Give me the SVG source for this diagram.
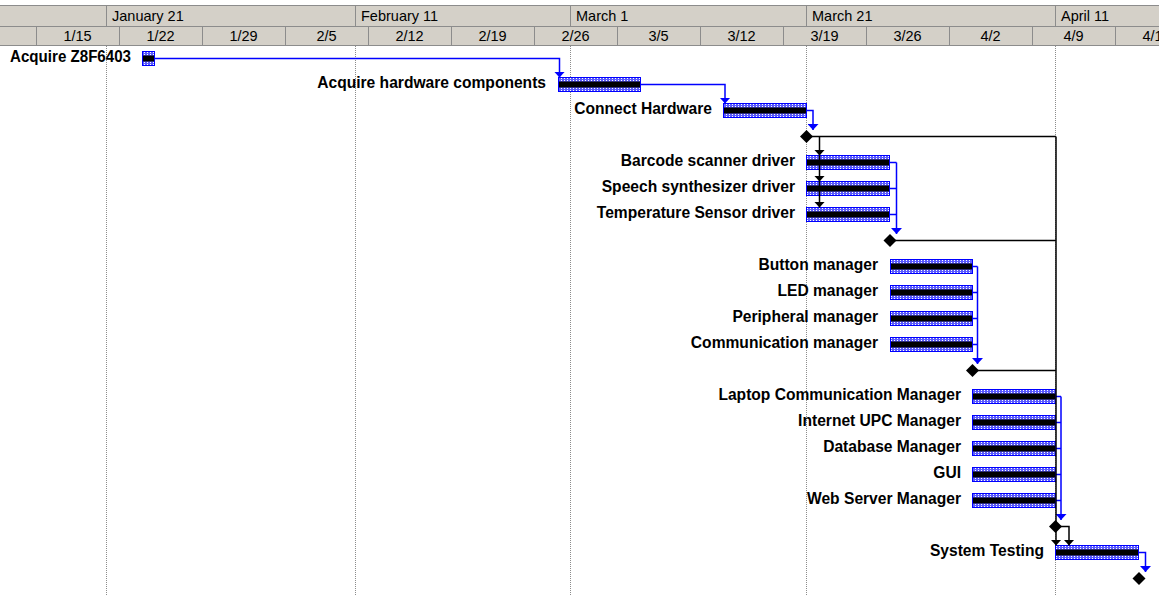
<svg xmlns="http://www.w3.org/2000/svg" width="1159" height="596" viewBox="0 0 1159 596">
<defs>
<pattern id="dots" x="0" y="0" width="3" height="2" patternUnits="userSpaceOnUse"><rect x="0" y="0" width="1" height="1" fill="#ffffff"/></pattern>
<marker id="ab" viewBox="0 0 6 11" markerWidth="6" markerHeight="11" refX="6" refY="5.5" orient="auto" markerUnits="userSpaceOnUse"><path d="M0,0 L6,5.5 L0,11 Z" fill="#0000ff"/></marker>
<marker id="ak" viewBox="0 0 6 11" markerWidth="6" markerHeight="11" refX="6" refY="5.5" orient="auto" markerUnits="userSpaceOnUse"><path d="M0,0 L6,5.5 L0,11 Z" fill="#000000"/></marker>
</defs>
<style>
.hd{font-family:"Liberation Sans",Arial,sans-serif;font-size:14.5px;fill:#000}
.hc{text-anchor:middle}
.hl{stroke:#8c8c8c;stroke-width:1;fill:none}
.grid{stroke:#8c8c8c;stroke-width:1;stroke-dasharray:1 1;fill:none}
.lbl{font-family:"Liberation Sans",Arial,sans-serif;font-size:15.6px;font-weight:bold;fill:#000;text-anchor:end}
.bar{fill:#5c5cff;stroke:#0000ff;stroke-width:1}
.stripe{fill:#000}
.ms{fill:#000}
.lb{stroke:#0000ff;stroke-width:1.5;fill:none}
.lk{stroke:#000;stroke-width:1.5;fill:none}
.ab{marker-end:url(#ab)}
.ak{marker-end:url(#ak)}
</style>
<rect width="1159" height="596" fill="#ffffff"/>
<g id="timescale">
<rect x="0" y="5" width="1159" height="41" fill="#d4d0c8"/>
<path class="hl" d="M0,5.5 H1159 M0,26.5 H1159 M0,45.5 H1159"/>
<path class="hl" d="M106.5,5.5 V26.5 M355.5,5.5 V26.5 M570.5,5.5 V26.5 M806.5,5.5 V26.5 M1055.5,5.5 V26.5"/>
<path class="hl" d="M36.5,26.5 V45.5 M119.5,26.5 V45.5 M202.5,26.5 V45.5 M285.5,26.5 V45.5 M368.5,26.5 V45.5 M451.5,26.5 V45.5 M534.5,26.5 V45.5 M617.5,26.5 V45.5 M700.5,26.5 V45.5 M783.5,26.5 V45.5 M866.5,26.5 V45.5 M949.5,26.5 V45.5 M1032.5,26.5 V45.5 M1115.5,26.5 V45.5"/>
<text class="hd" x="112" y="21">January 21</text>
<text class="hd" x="361" y="21">February 11</text>
<text class="hd" x="576" y="21">March 1</text>
<text class="hd" x="812" y="21">March 21</text>
<text class="hd" x="1061" y="21">April 11</text>
<text class="hd hc" x="77.5" y="41">1/15</text>
<text class="hd hc" x="160.5" y="41">1/22</text>
<text class="hd hc" x="243.5" y="41">1/29</text>
<text class="hd hc" x="326.5" y="41">2/5</text>
<text class="hd hc" x="409.5" y="41">2/12</text>
<text class="hd hc" x="492.5" y="41">2/19</text>
<text class="hd hc" x="575.5" y="41">2/26</text>
<text class="hd hc" x="658.5" y="41">3/5</text>
<text class="hd hc" x="741.5" y="41">3/12</text>
<text class="hd hc" x="824.5" y="41">3/19</text>
<text class="hd hc" x="907.5" y="41">3/26</text>
<text class="hd hc" x="990.5" y="41">4/2</text>
<text class="hd hc" x="1073.5" y="41">4/9</text>
<text class="hd hc" x="1156.5" y="41">4/16</text>
</g>
<g id="gridlines">
<path class="grid" d="M106.5,46 V596 M355.5,46 V596 M570.5,46 V596 M806.5,46 V596 M1055.5,46 V596"/>
</g>
<g id="t0"><text class="lbl" x="131" y="62" textLength="121" lengthAdjust="spacingAndGlyphs">Acquire Z8F6403</text><rect class="bar" x="142.5" y="51.5" width="12" height="14"/><rect x="143" y="52" width="11" height="13" fill="url(#dots)"/><rect class="stripe" x="143" y="55.5" width="11" height="6"/></g>
<g id="t1"><text class="lbl" x="546" y="88">Acquire hardware components</text><rect class="bar" x="558.5" y="77.5" width="82" height="14"/><rect x="559" y="78" width="81" height="13" fill="url(#dots)"/><rect class="stripe" x="559" y="81.5" width="81" height="6"/></g>
<g id="t2"><text class="lbl" x="712" y="114">Connect Hardware</text><rect class="bar" x="723.5" y="103.5" width="83" height="14"/><rect x="724" y="104" width="82" height="13" fill="url(#dots)"/><rect class="stripe" x="724" y="107.5" width="82" height="6"/></g>
<g id="t4"><text class="lbl" x="795" y="166">Barcode scanner driver</text><rect class="bar" x="806.5" y="155.5" width="83" height="14"/><rect x="807" y="156" width="82" height="13" fill="url(#dots)"/><rect class="stripe" x="807" y="159.5" width="82" height="6"/></g>
<g id="t5"><text class="lbl" x="795" y="192">Speech synthesizer driver</text><rect class="bar" x="806.5" y="181.5" width="83" height="14"/><rect x="807" y="182" width="82" height="13" fill="url(#dots)"/><rect class="stripe" x="807" y="185.5" width="82" height="6"/></g>
<g id="t6"><text class="lbl" x="795" y="218">Temperature Sensor driver</text><rect class="bar" x="806.5" y="207.5" width="83" height="14"/><rect x="807" y="208" width="82" height="13" fill="url(#dots)"/><rect class="stripe" x="807" y="211.5" width="82" height="6"/></g>
<g id="t8"><text class="lbl" x="878" y="270">Button manager</text><rect class="bar" x="890.5" y="259.5" width="82" height="14"/><rect x="891" y="260" width="81" height="13" fill="url(#dots)"/><rect class="stripe" x="891" y="263.5" width="81" height="6"/></g>
<g id="t9"><text class="lbl" x="878" y="296">LED manager</text><rect class="bar" x="890.5" y="285.5" width="82" height="14"/><rect x="891" y="286" width="81" height="13" fill="url(#dots)"/><rect class="stripe" x="891" y="289.5" width="81" height="6"/></g>
<g id="t10"><text class="lbl" x="878" y="322">Peripheral manager</text><rect class="bar" x="890.5" y="311.5" width="82" height="14"/><rect x="891" y="312" width="81" height="13" fill="url(#dots)"/><rect class="stripe" x="891" y="315.5" width="81" height="6"/></g>
<g id="t11"><text class="lbl" x="878" y="348">Communication manager</text><rect class="bar" x="890.5" y="337.5" width="82" height="14"/><rect x="891" y="338" width="81" height="13" fill="url(#dots)"/><rect class="stripe" x="891" y="341.5" width="81" height="6"/></g>
<g id="t13"><text class="lbl" x="961" y="400">Laptop Communication Manager</text><rect class="bar" x="972.5" y="389.5" width="83" height="14"/><rect x="973" y="390" width="82" height="13" fill="url(#dots)"/><rect class="stripe" x="973" y="393.5" width="82" height="6"/></g>
<g id="t14"><text class="lbl" x="961" y="426">Internet UPC Manager</text><rect class="bar" x="972.5" y="415.5" width="83" height="14"/><rect x="973" y="416" width="82" height="13" fill="url(#dots)"/><rect class="stripe" x="973" y="419.5" width="82" height="6"/></g>
<g id="t15"><text class="lbl" x="961" y="452">Database Manager</text><rect class="bar" x="972.5" y="441.5" width="83" height="14"/><rect x="973" y="442" width="82" height="13" fill="url(#dots)"/><rect class="stripe" x="973" y="445.5" width="82" height="6"/></g>
<g id="t16"><text class="lbl" x="961" y="478">GUI</text><rect class="bar" x="972.5" y="467.5" width="83" height="14"/><rect x="973" y="468" width="82" height="13" fill="url(#dots)"/><rect class="stripe" x="973" y="471.5" width="82" height="6"/></g>
<g id="t17"><text class="lbl" x="961" y="504">Web Server Manager</text><rect class="bar" x="972.5" y="493.5" width="83" height="14"/><rect x="973" y="494" width="82" height="13" fill="url(#dots)"/><rect class="stripe" x="973" y="497.5" width="82" height="6"/></g>
<g id="t19"><text class="lbl" x="1044" y="556">System Testing</text><rect class="bar" x="1055.5" y="545.5" width="83" height="14"/><rect x="1056" y="546" width="82" height="13" fill="url(#dots)"/><rect class="stripe" x="1056" y="549.5" width="82" height="6"/></g>
<g id="connectors">
<path class="lb ab" d="M154.5,58.5 H559.5 V77.5"/>
<path class="lb ab" d="M640.5,84.5 H725 V103.5"/>
<path class="lb ab" d="M806.5,110.5 H813 V130"/>
<path class="lb" d="M889.5,162.5 H896.5 M889.5,188.5 H896.5 M889.5,214.5 H896.5"/>
<path class="lb ab" d="M896.5,162.5 V234"/>
<path class="lb" d="M972.5,266.5 H977.5 M972.5,292.5 H977.5 M972.5,318.5 H977.5 M972.5,344.5 H977.5"/>
<path class="lb ab" d="M977.5,266.5 V364"/>
<path class="lb" d="M1055.5,396.5 H1061 M1055.5,422.5 H1061 M1055.5,448.5 H1061 M1055.5,474.5 H1061 M1055.5,500.5 H1061"/>
<path class="lb ab" d="M1061,396.5 V520"/>
<path class="lb ab" d="M1138.5,552.5 H1145.5 V572"/>
<path class="lk" d="M806.5,136.5 H1056 M890,240.5 H1056 M972.5,370.5 H1056"/>
<path class="lk ak" d="M1056,136.5 V545.5"/>
<path class="lk ak" d="M819.5,136.5 V155.5"/>
<path class="lk ak" d="M819.5,155.5 V181.5"/>
<path class="lk ak" d="M819.5,181.5 V207.5"/>
<path class="lk ak" d="M1055.5,526.5 H1069 V545.5"/>
</g>
<g id="m3"><polygon class="ms" points="806.5,130 813,136.5 806.5,143 800,136.5"/></g>
<g id="m7"><polygon class="ms" points="890,234 896.5,240.5 890,247 883.5,240.5"/></g>
<g id="m12"><polygon class="ms" points="972.5,364 979,370.5 972.5,377 966,370.5"/></g>
<g id="m18"><polygon class="ms" points="1055.5,520 1062,526.5 1055.5,533 1049,526.5"/></g>
<g id="m20"><polygon class="ms" points="1139,572 1145.5,578.5 1139,585 1132.5,578.5"/></g>
</svg>
